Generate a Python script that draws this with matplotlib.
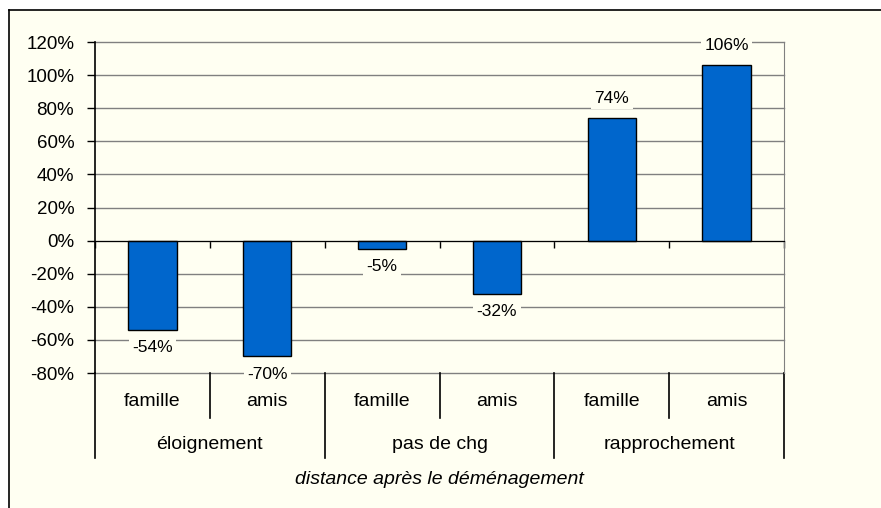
import numpy as np
import matplotlib
matplotlib.use('Agg')
from matplotlib import pyplot as plt
from matplotlib.lines import Line2D
from matplotlib.patches import Rectangle

plt.rcParams['font.family'] = ['Liberation Sans', 'DejaVu Sans']

groups = ['éloignement', 'pas de chg', 'rapprochement']
subcats = ['famille', 'amis', 'famille', 'amis', 'famille', 'amis']
values = [-54, -70, -5, -32, 74, 106]
yticks = [-80, -60, -40, -20, 0, 20, 40, 60, 80, 100, 120]
xtitle = 'distance après le déménagement'

cream = '#FFFFF2'
blue = '#0066CC'
W, H = 881, 508

fig = plt.figure(figsize=(W / 100, H / 100), dpi=100)
fig.patch.set_facecolor('white')
fig.add_artist(Rectangle((9 / W, 0), 1, 1 - 10 / H, transform=fig.transFigure,
                         fc=cream, ec='none', zorder=-10))
fig.add_artist(Line2D([9 / W, 1], [1 - 10 / H, 1 - 10 / H], color='black', lw=1.2))
fig.add_artist(Line2D([9 / W, 9 / W], [0, 1 - 10 / H], color='black', lw=1.2))

ax = fig.add_axes([95 / W, 1 - 373 / H, (784 - 95) / W, (373 - 42) / H])
ax.set_facecolor(cream)

x = np.arange(len(values))
ax.bar(x, values, width=0.42, color=blue, edgecolor='black', linewidth=1, zorder=3)

ax.set_xlim(-0.5, len(values) - 0.5)
ax.set_ylim(-80, 120)
ax.set_yticks(yticks)
ax.set_yticklabels(['%d%%' % v for v in yticks], fontsize=13.5)
ax.yaxis.grid(True, color='#808080', lw=1, zorder=0)
for gl in ax.get_ygridlines():
    gl.set_clip_on(False)
ax.tick_params(axis='y', length=6, width=1, pad=9, colors='black')

ax.spines['bottom'].set_position(('data', 0))
ax.spines['bottom'].set_zorder(4)
ax.spines['top'].set_visible(False)
ax.spines['right'].set_color('#808080')
ax.spines['left'].set_linewidth(1.2)
ax.set_xticks(np.arange(len(values) + 1) - 0.5)
ax.set_xticklabels([])
ax.tick_params(axis='x', length=5, width=1, direction='out')

# data labels (offsets in pixels)
for xi, v in zip(x, values):
    off = 20 if v >= 0 else -18
    ax.annotate('%d%%' % v, (xi, v), xytext=(0, off * 0.72), textcoords='offset points',
                ha='center', va='center', fontsize=12.5, zorder=5, annotation_clip=False,
                bbox=dict(boxstyle='square,pad=0.2', fc=cream, ec='none'))

# multi-level category axis
tr = ax.get_xaxis_transform()
for xi, lab in enumerate(subcats):
    ax.text(xi, -0.0876, lab, transform=tr, ha='center', va='center', fontsize=14)
for i in range(len(values) + 1):
    low = -0.257 if i % 2 == 0 else -0.136
    ax.plot([i - 0.5, i - 0.5], [0, low], transform=tr, color='black', lw=1.2, clip_on=False)
for gi, g in enumerate(groups):
    ax.text(2 * gi + 0.5, -0.2175, g, transform=tr, ha='center', va='center', fontsize=14)
ax.text(2.5, -0.323, xtitle, transform=tr, ha='center', va='center',
        fontsize=14, style='italic')

fig.savefig('out.png', dpi=100, facecolor=fig.get_facecolor())
